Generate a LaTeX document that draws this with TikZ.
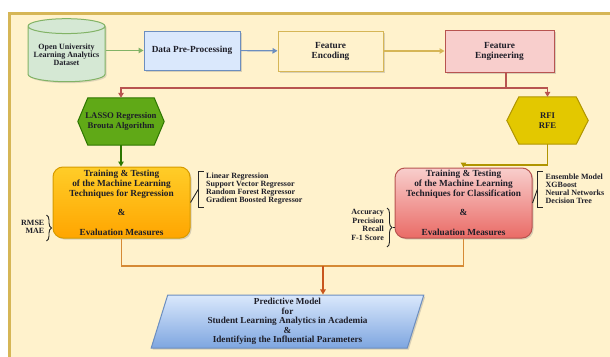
\documentclass[tikz,border=0pt]{standalone}
\usepackage{fontspec}
\setmainfont{Liberation Serif}
\usetikzlibrary{shapes.geometric,arrows.meta,shadows,backgrounds,decorations.pathreplacing}
\definecolor{noteF}{HTML}{FFF2CC}
\definecolor{noteD}{HTML}{D6B656}
\definecolor{grnF}{HTML}{D5E8D4}
\definecolor{grnD}{HTML}{82B366}
\definecolor{bluF}{HTML}{DAE8FC}
\definecolor{bluD}{HTML}{6C8EBF}
\definecolor{bluB}{HTML}{7EA6E0}
\definecolor{redF}{HTML}{F8CECC}
\definecolor{redD}{HTML}{B85450}
\definecolor{redB}{HTML}{EA6B66}
\definecolor{lasF}{HTML}{60A917}
\definecolor{lasD}{HTML}{2D7600}
\definecolor{rfiF}{HTML}{E3C800}
\definecolor{rfiD}{HTML}{B09500}
\definecolor{orT}{HTML}{FFCD28}
\definecolor{orB}{HTML}{FFA500}
\definecolor{orD}{HTML}{D79B00}
\definecolor{mergeC}{HTML}{D68A35}
\definecolor{downC}{HTML}{C8561E}
\definecolor{txt}{HTML}{1E1E28}
\tikzset{
  box/.style={draw, line width=1pt, align=center, inner sep=1pt, text=txt,
    font=\bfseries\fontsize{9.3}{10}\selectfont,
    drop shadow={shadow xshift=1.5pt, shadow yshift=-1.5pt, opacity=0.3}},
  hexlabel/.style={inner sep=0pt, align=center, text=txt,
    font=\bfseries\fontsize{8.7}{10}\selectfont},
  conn/.style={line width=1.1pt, -{Triangle[width=5.5pt,length=5pt]}},
  plain/.style={line width=1.1pt},
  lst/.style={font=\bfseries\fontsize{8}{8}\selectfont, text=txt, inner sep=0pt},
  brk/.style={line width=0.9pt, draw=black!85},
  curly/.style={line width=0.9pt, draw=black!85, decorate, decoration={brace, amplitude=5pt}},
}
\begin{document}
\begin{tikzpicture}[x=1pt,y=-1pt]
\useasboundingbox (0,0) rectangle (610,356);
\begin{scope}[on background layer]
  \draw[line width=3pt, draw=noteD, fill=noteF] (9.5,13.5) rectangle (660,400);
\end{scope}

% top row
\node[cylinder, shape border rotate=90, aspect=0.22, draw=grnD, fill=grnF, line width=1pt,
      minimum width=77pt, minimum height=63pt, inner sep=1pt, align=center, text=txt,
      font=\bfseries\fontsize{8}{8}\selectfont,
      drop shadow={shadow xshift=1.5pt, shadow yshift=-1.5pt, opacity=0.25}]
      (db) at (66.5,55) {Open University\\Learning Analytics\\Dataset};
\node[box, draw=bluD, fill=bluF, minimum width=96pt, minimum height=39pt] (dpp) at (192,50.5) {Data Pre-Processing};
\node[box, draw=noteD, fill=noteF, minimum width=105pt, minimum height=40pt] (fenc) at (330.5,51) {Feature\\Encoding};
\node[box, draw=redD, fill=redF, minimum width=109pt, minimum height=42pt] (feng) at (499.5,51) {Feature\\Engineering};

\draw[conn, draw=grnD] (db.east |- dpp.west) -- (dpp.west);
\draw[conn, draw=bluD] (dpp) -- (fenc);
\draw[conn, draw=noteD] (fenc) -- (feng);

% hexagons
\node[hexlabel, minimum width=86pt, minimum height=47pt] (lasso) at (121,121.5) {LASSO Regression\\Brouta Algorithm};
\node[hexlabel, minimum width=81pt, minimum height=47pt] (rfi) at (547.5,120.5) {RFI\\RFE};
\begin{scope}[on background layer]
  \draw[line width=1pt, draw=lasD, fill=lasF] (lasso.west) -- ([xshift=10pt]lasso.north west) -- ([xshift=-10pt]lasso.north east) -- (lasso.east) -- ([xshift=-10pt]lasso.south east) -- ([xshift=10pt]lasso.south west) -- cycle;
  \draw[line width=1pt, draw=rfiD, fill=rfiF] (rfi.west) -- ([xshift=12pt]rfi.north west) -- ([xshift=-12pt]rfi.north east) -- (rfi.east) -- ([xshift=-12pt]rfi.south east) -- ([xshift=12pt]rfi.south west) -- cycle;
\end{scope}

\coordinate (split) at (506,88);
\draw[plain, draw=redD] ([xshift=6.5pt]feng.south) -- (split);
\draw[conn, draw=redD] (split) -| (lasso.north);
\draw[conn, draw=redD] (split) -| (rfi.north);

% main boxes
\node[box, draw=orD, top color=orT, bottom color=orB, rounded corners=10pt,
      minimum width=137pt, minimum height=71pt] (reg) at (121.5,202.5)
  {Training \& Testing\\of the Machine Learning\\Techniques for Regression\\[9pt]\&\\[10pt]Evaluation Measures};
\node[box, draw=redD, top color=redF, bottom color=redB, rounded corners=10pt,
      minimum width=137pt, minimum height=70pt] (cls) at (463.5,203)
  {Training \& Testing\\of the Machine Learning\\Techniques for Classification\\[9pt]\&\\[10pt]Evaluation Measures};

\draw[conn, draw=lasD] (lasso.south) -- (lasso.south |- reg.north);
\coordinate (rfiturn) at (547.5,165);
\draw[conn, draw=rfiD] (rfi.south) -- (rfiturn) -| (cls.north);

% lists
\node[lst, anchor=west, align=left] (regl) at (206,189)
  {Linear Regression\\Support Vector Regressor\\Random Forest Regressor\\Gradient Boosted Regressor};
\node[lst, anchor=west, align=left] (clsl) at (545.5,189)
  {Ensemble Model\\XGBoost\\Neural Networks\\Decision Tree};
\node[lst, anchor=east, align=right] (rmse) at (44.5,227) {RMSE\\MAE};
\node[lst, anchor=east, align=right, font=\bfseries\fontsize{8}{8.5}\selectfont] (acc) at (384,225)
  {Accuracy\\Precision\\Recall\\F-1 Score};

% brackets
\draw[brk] (reg.east) -- (198.5,189);
\draw[brk] (203.5,171) -- (198.5,171) -- (198.5,207) -- (203.5,207);
\draw[brk] (cls.east) -- (537.5,189);
\draw[brk] (542.5,171) -- (537.5,171) -- (537.5,207) -- (542.5,207);
\draw[curly] (46.5,215) -- (46.5,241);
\draw[curly] (387,208) -- (387,247);
\draw[brk] (393,227.5) -- (cls.west |- 0,227.5);

% output
\node[trapezium, trapezium left angle=77, trapezium right angle=103, trapezium stretches=true,
      box, draw=bluD, top color=bluF, bottom color=bluB,
      minimum width=273pt, minimum height=53pt,
      font=\bfseries\fontsize{9.2}{9.5}\selectfont] (para) at (287.5,321.5)
  {Predictive Model\\for\\Student Learning Analytics in Academia\\\&\\Identifying the Influential Parameters};

\coordinate (merge) at (323,266);
\draw[plain, draw=mergeC] (reg.south) |- (merge);
\draw[plain, draw=mergeC] (cls.south) |- (merge);
\draw[conn, draw=downC] (merge) -- (merge |- para.north);
\end{tikzpicture}
\end{document}
